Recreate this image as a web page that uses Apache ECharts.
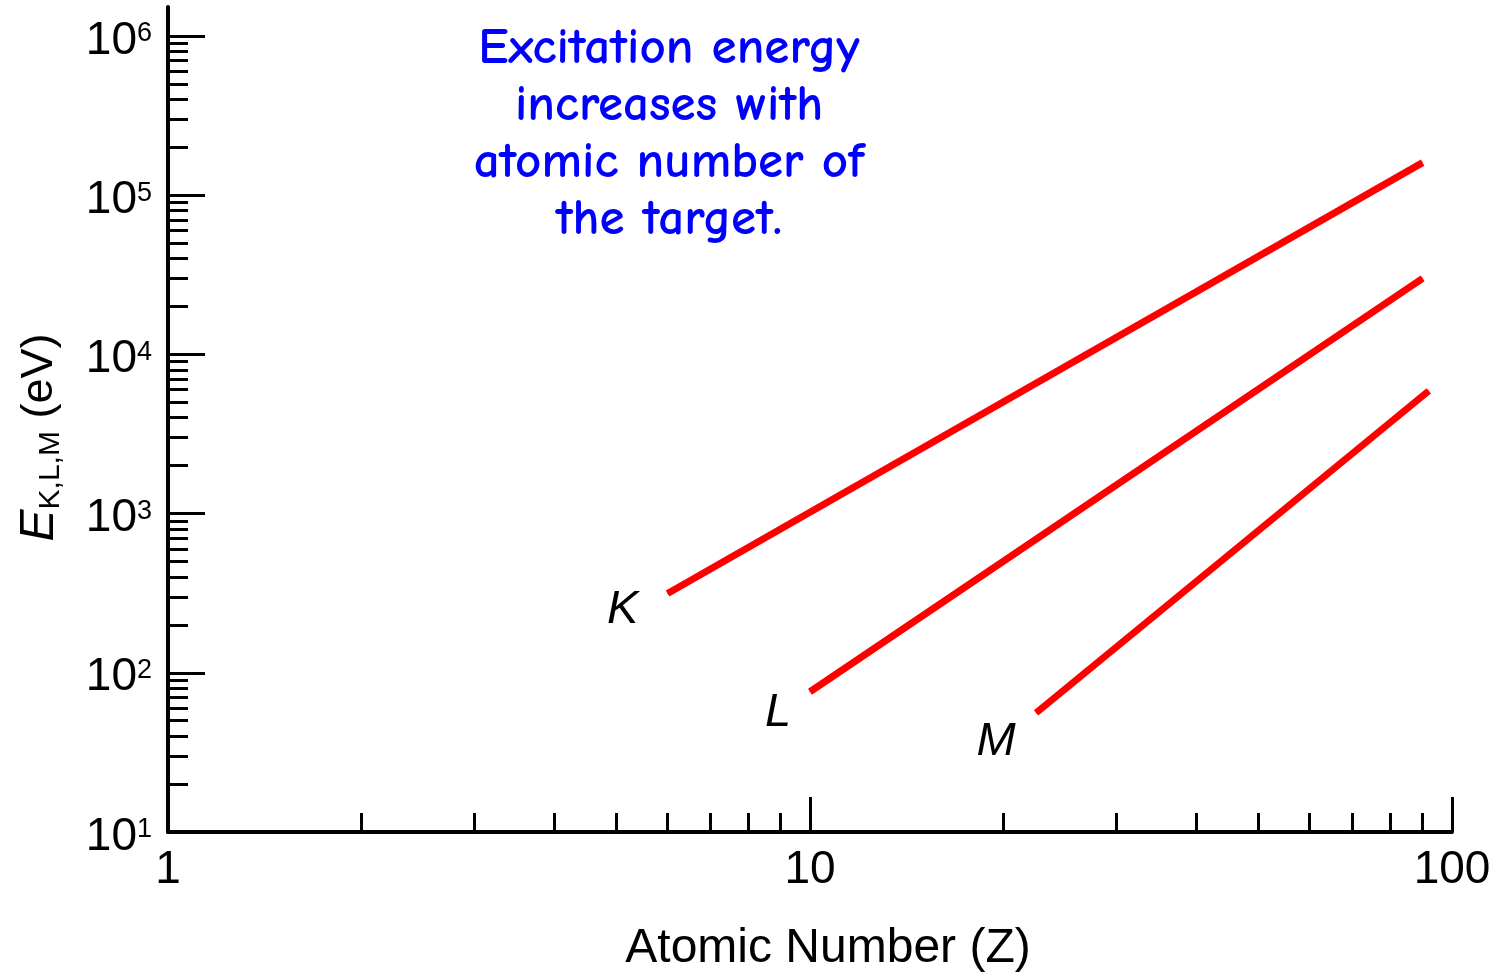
<!DOCTYPE html>
<html>
<head>
<meta charset="utf-8">
<script src="https://cdn.jsdelivr.net/npm/echarts@6/dist/echarts.min.js"></script>
<style>
  html, body { margin: 0; padding: 0; background: #ffffff; }
  #chart { width: 1490px; height: 977px; }
</style>
</head>
<body>
<div id="chart"></div>
<script>
// Shell excitation (absorption-edge) energies vs. atomic number, log-log.
// Each shell is one straight segment: [Z, energy in eV].
const shellNames = ['K', 'L', 'M'];
const kShell = [[6, 315], [90, 160000]];
const lShell = [[10, 76], [90, 30000]];
const mShell = [[22.5, 56], [92, 5900]];

// Axis ticks and their labels
const xMajorTicks = [1, 10, 100];
const xTickLabels = ['1', '10', '100'];
const yMajorTicks = [10, 100, 1000, 10000, 100000, 1000000];
const yTickExponents = ['1', '2', '3', '4', '5', '6'];
const yAxisTop = 1520000;

const noteLines = ['Excitation energy', 'increases with', 'atomic number of', 'the target.'];

// minor ticks at 2..9 times each decade start
function minorTicks(majors, max) {
  const out = [];
  majors.forEach(function (d) {
    for (let k = 2; k <= 9; k++) {
      if (k * d <= max) out.push(k * d);
    }
  });
  return out;
}
const xMinor = minorTicks(xMajorTicks, 100);
const yMinor = minorTicks(yMajorTicks, yAxisTop);

const FONT = '"Liberation Sans", Arial, Helvetica, sans-serif';
const BLACK = '#000000';

const chart = echarts.init(document.getElementById('chart'), null, { renderer: 'canvas' });

const labelOffsets = [[-45, 16], [-32, 21], [-40, 29]];
const shells = [kShell, lShell, mShell];

const series = shells.map(function (pts, i) {
  return {
    name: shellNames[i],
    type: 'line',
    xAxisIndex: 0,
    yAxisIndex: 0,
    showSymbol: true,
    symbol: 'circle',
    symbolSize: 1,
    itemStyle: { color: '#ff0000' },
    lineStyle: { color: '#ff0000', width: 7, cap: 'butt' },
    silent: true,
    z: 3,
    data: pts.map(function (p, j) {
      if (j !== 0) return { value: p };
      return {
        value: p,
        label: {
          show: true,
          position: 'inside',
          offset: labelOffsets[i],
          formatter: shellNames[i],
          fontFamily: FONT,
          fontStyle: 'italic',
          fontSize: 47,
          color: BLACK,
          align: 'center',
          verticalAlign: 'middle'
        }
      };
    })
  };
});

const option = {
  animation: false,
  backgroundColor: '#ffffff',
  textStyle: { fontFamily: FONT, color: BLACK },
  grid: {
    left: 168, right: 38, top: 7, bottom: 145,
    containLabel: false,
    outerBoundsMode: 'none'
  },
  xAxis: [
    {
      type: 'log', logBase: 10, min: 1, max: 100, position: 'bottom',
      axisLine: { show: true, onZero: false, lineStyle: { color: BLACK, width: 4 } },
      axisTick: { show: true, inside: true, length: 35, customValues: [10, 100],
                  lineStyle: { color: BLACK, width: 3 } },
      axisLabel: {
        show: true, customValues: xMajorTicks, margin: 15,
        fontSize: 46, color: BLACK, fontFamily: FONT,
        formatter: function (v) {
          const idx = xMajorTicks.findIndex(function (t) { return Math.abs(t - v) / t < 1e-6; });
          return idx >= 0 ? xTickLabels[idx] : '';
        }
      },
      splitLine: { show: false },
      minorTick: { show: false },
      name: 'Atomic Number (Z)',
      nameLocation: 'middle',
      nameGap: 93,
      nameTextStyle: { fontSize: 48, color: BLACK, fontFamily: FONT, padding: [0, 0, 0, 36] }
    },
    {
      type: 'log', logBase: 10, min: 1, max: 100, position: 'bottom',
      axisLine: { show: false, onZero: false },
      axisTick: { show: true, inside: true, length: 19, customValues: xMinor,
                  lineStyle: { color: BLACK, width: 3 } },
      axisLabel: { show: false },
      splitLine: { show: false }
    }
  ],
  yAxis: [
    {
      type: 'log', logBase: 10, min: 10, max: yAxisTop, position: 'left',
      axisLine: { show: true, onZero: false, lineStyle: { color: BLACK, width: 4 } },
      axisTick: { show: true, inside: true, length: 37, customValues: yMajorTicks,
                  lineStyle: { color: BLACK, width: 3 } },
      axisLabel: {
        show: true, customValues: yMajorTicks, margin: 16,
        color: BLACK, fontFamily: FONT,
        formatter: function (v) {
          const idx = yMajorTicks.findIndex(function (t) { return Math.abs(t - v) / t < 1e-6; });
          return idx >= 0 ? '{b|10}{s|' + yTickExponents[idx] + '}' : '';
        },
        rich: {
          b: { fontSize: 46, color: BLACK, fontFamily: FONT, padding: [10, 0, 0, 0] },
          s: { fontSize: 27, color: BLACK, fontFamily: FONT, padding: [0, 0, 4, 0] }
        }
      },
      splitLine: { show: false },
      minorTick: { show: false },
      name: '{e|E}{s|K,L,M}{t| (eV)}',
      nameLocation: 'middle',
      nameRotate: 90,
      nameGap: 102,
      nameTextStyle: {
        color: BLACK,
        fontFamily: FONT,
        padding: [0, 36, 0, 0],
        rich: {
          e: { fontSize: 48, fontStyle: 'italic', color: BLACK, fontFamily: FONT },
          s: { fontSize: 30, color: BLACK, fontFamily: FONT, padding: [22, 0, 0, 0] },
          t: { fontSize: 45, color: BLACK, fontFamily: FONT }
        }
      }
    },
    {
      type: 'log', logBase: 10, min: 10, max: yAxisTop, position: 'left',
      axisLine: { show: false, onZero: false },
      axisTick: { show: true, inside: true, length: 20, customValues: yMinor,
                  lineStyle: { color: BLACK, width: 3 } },
      axisLabel: { show: false },
      splitLine: { show: false }
    }
  ],
  graphic: [
    {
      type: 'text',
      x: 669,
      y: 20,
      silent: true,
      style: {
        text: noteLines.join('\n'),
        align: 'center',
        verticalAlign: 'top',
        fontFamily: '"Comic Sans MS", "Comic Neue", "DejaVu Sans", sans-serif',
        fontWeight: 'bold',
        fontSize: 51,
        lineHeight: 57,
        fill: '#0000ff'
      }
    }
  ],
  series: series
};

chart.setOption(option);
</script>
</body>
</html>
